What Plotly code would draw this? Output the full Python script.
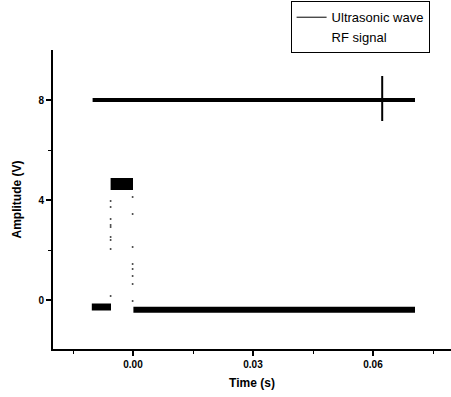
import plotly.graph_objects as go

# --- data ---
# Ultrasonic wave: flat trace ~8 V with a short burst at ~0.062 s
us_t = [-0.0101, 0.0705]
us_v = [8.0, 8.0]
burst_t = [0.0623, 0.0623]
burst_v = [8.96, 7.16]

# RF signal: segments (low, high, low) separated by gaps
rf_low1_t = [-0.0103, -0.0055]
rf_low1_v = [-0.28, -0.28]
rf_high_t = [-0.0056, 0.0]
rf_high_v = [4.64, 4.64]
rf_low2_t = [0.0001, 0.0705]
rf_low2_v = [-0.39, -0.39]

# sparse transition samples of the RF signal
rf_dot_t = [-0.0056, -0.0056, -0.0056, -0.0056, -0.0056, -0.0056, -0.0056, -0.0056, -0.0056,
            -0.0001, -0.0001, -0.0001, -0.0001, -0.0001, -0.0001, -0.0001, -0.0001]
rf_dot_v = [3.96, 3.72, 3.24, 3.0, 2.92, 2.52, 2.4, 2.04, 0.16,
            4.12, 3.44, 2.12, 1.44, 1.24, 0.96, 0.64, -0.04]

x_ticks = [0.0, 0.03, 0.06]
x_labels = ["0.00", "0.03", "0.06"]
x_minor = [-0.015, 0.015, 0.045, 0.075]
y_ticks = [0, 4, 8]
y_labels = ["0", "4", "8"]
y_minor = [2, 6]

fig = go.Figure()
def seg(x, y, w):
    fig.add_trace(go.Scatter(x=x, y=y, mode="lines", line=dict(color="black", width=w),
                             showlegend=False, hoverinfo="skip"))

seg(us_t, us_v, 4)
seg(burst_t, burst_v, 2)
seg(rf_low1_t, rf_low1_v, 7)
seg(rf_high_t, rf_high_v, 12)
seg(rf_low2_t, rf_low2_v, 6)
fig.add_trace(go.Scatter(x=rf_dot_t, y=rf_dot_v, mode="markers",
                         marker=dict(color="#444", size=2), showlegend=False, hoverinfo="skip"))
# legend entries
fig.add_trace(go.Scatter(x=[None], y=[None], mode="lines", name="Ultrasonic wave",
                         line=dict(color="black", width=1)))
fig.add_trace(go.Scatter(x=[None], y=[None], mode="markers", name="RF signal",
                         marker=dict(color="rgba(0,0,0,0)", size=1)))

fig.update_layout(
    width=451, height=397,
    margin=dict(l=53, r=0, t=50, b=48),
    paper_bgcolor="white", plot_bgcolor="white",
    font=dict(family="Liberation Sans, Arial", color="black"),
    legend=dict(x=0.597, y=1.163, xanchor="left", yanchor="top",
                bordercolor="black", borderwidth=1, bgcolor="white",
                font=dict(size=13, family="Liberation Sans, Arial"),
                itemwidth=30, tracegroupgap=0),
    xaxis=dict(range=[-0.02, 0.0795], tickvals=x_ticks, ticktext=x_labels,
               showgrid=False, zeroline=False, showline=True, linecolor="black", linewidth=2,
               ticks="outside", ticklen=5, tickwidth=1.5, tickcolor="black",
               tickfont=dict(size=10, family="Liberation Sans, Arial", weight="bold"),
               minor=dict(tickvals=x_minor, ticks="outside", ticklen=3, tickwidth=1, tickcolor="black"),
               title=dict(text="<b>Time (s)</b>", font=dict(size=12), standoff=10)),
    yaxis=dict(range=[-1.96, 10], tickvals=y_ticks, ticktext=y_labels,
               showgrid=False, zeroline=False, showline=True, linecolor="black", linewidth=2,
               ticks="outside", ticklen=5, tickwidth=1.5, tickcolor="black",
               tickfont=dict(size=10, family="Liberation Sans, Arial", weight="bold"),
               minor=dict(tickvals=y_minor, ticks="outside", ticklen=3, tickwidth=1, tickcolor="black"),
               title=dict(text="<b>Amplitude (V)</b>", font=dict(size=12), standoff=14)),
)
fig.write_html("out.html")
